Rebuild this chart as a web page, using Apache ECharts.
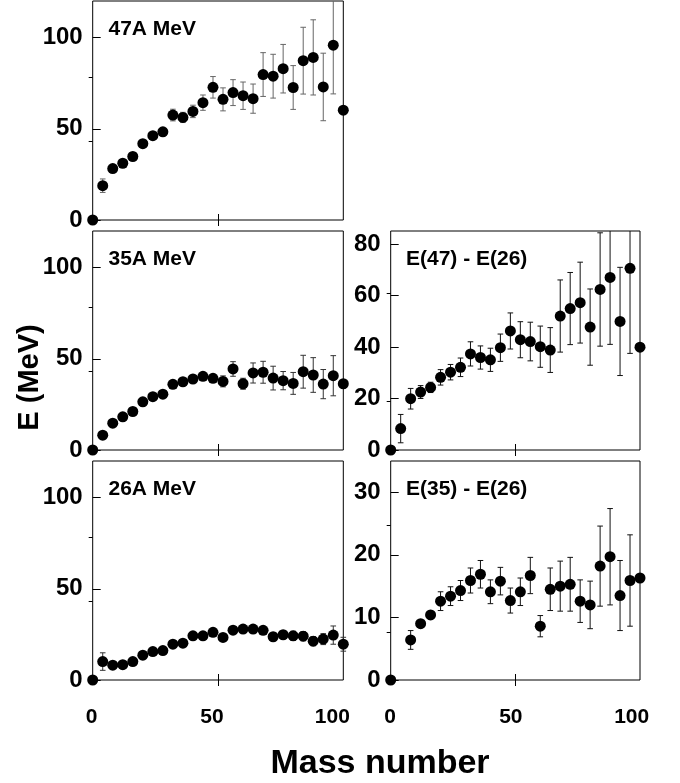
<!DOCTYPE html>
<html>
<head>
<meta charset="utf-8">
<script src="https://cdn.jsdelivr.net/npm/echarts@6/dist/echarts.min.js"></script>
<style>
html,body{margin:0;padding:0;background:#fff;}
#chart{width:680px;height:783px;}
</style>
</head>
<body>
<div id="chart"></div>
<script>
// ---- data ----
const massNumbers = [0,4,8,12,16,20,24,28,32,36,40,44,48,52,56,60,64,68,72,76,80,84,88,92,96,100];

const e47 = [0,18.8,28.2,31.1,34.8,41.8,46.2,48.3,57.5,56.2,59.5,64.3,72.7,66.1,69.8,68.1,66.5,79.7,78.8,82.9,72.6,87.3,89.1,72.9,95.8,60.2];
const e47Err = [0,3.7,1.5,1.5,1.5,1.5,1.5,1.5,3.2,2.8,3.4,4.2,5.9,6.3,7.1,7.5,8,12,12,13.3,12,18.3,20.6,18.5,26.7,0];

const e35 = [0,8.1,14.7,18.2,21.1,26.4,29.2,30.6,36.0,37.4,38.9,40.4,39.3,37.6,44.4,36.3,42.2,42.6,39.4,38.0,36.5,42.9,41.1,36.1,40.7,36.3];
const e35Err = [0,2,1,1,1,1,1,1,1,1,1.5,2,2,3,4,3,5.5,6,6.5,5,6,9,9.5,8,11,0];

const e26 = [0,10.1,8.1,8.4,10.1,13.6,15.6,16.1,19.6,20.2,24.2,24.2,26.1,23.3,27.3,27.9,27.9,27.2,23.7,24.8,24.2,24.0,21.3,22.4,24.6,19.6];
const e26Err = [0,4.8,1,1,1,1,1,1,1,1,1,1,1,1,1,1.5,2,2,1.5,2,2.5,2.5,2.5,3,5,3.8];

const d4726 = [0,8.3,19.9,22.5,24.3,28.2,30.2,32.1,37.3,35.9,35.0,39.7,46.2,42.8,42.1,40.1,38.8,52.0,54.9,57.2,47.7,62.3,67.0,49.9,70.5,39.9];
const d4726Err = [0,5.5,4,2.5,2,3,3,3.6,4.7,4.5,4.5,5.3,7,7,7.5,8,8.7,14,14,15.7,14.8,22,26,21,33,0];

const d3526 = [0,null,6.4,9.0,10.4,12.6,13.4,14.3,15.9,16.9,14.1,15.8,12.7,14.1,16.7,8.6,14.5,15.0,15.3,12.6,12.0,18.2,19.7,13.5,15.9,16.3];
const d3526Err = [0,null,1.5,0.5,0.6,1.5,1.5,1.6,2,2.2,1.9,2.2,2,2.2,2.9,1.7,3.4,4,4.3,3.4,3.8,6.4,7.7,5.6,7.3,0];

const panelTitles = ['47A MeV','35A MeV','26A MeV','E(47) - E(26)','E(35) - E(26)'];
const xTickLabels = [0,50,100];
const leftYTicks = [0,50,100];
const diff47YTicks = [0,20,40,60,80];
const diff35YTicks = [0,10,20,30];

// ---- layout ----
const FONT = '"Liberation Sans", Arial, Helvetica, sans-serif';
const panels = [
  {left:92.7, top:1,   width:250.6, height:219, ymax:120, yt:leftYTicks,   rt:[43.3,78.1], vals:e47,   errs:e47Err,   errColor:'#666'},
  {left:92.7, top:231, width:250.6, height:219, ymax:120, yt:leftYTicks,   rt:[43.3,78.1], vals:e35,   errs:e35Err,   errColor:'#333'},
  {left:92.7, top:461, width:250.6, height:219, ymax:120, yt:leftYTicks,   rt:[43.3,78.1], vals:e26,   errs:e26Err,   errColor:'#333'},
  {left:390.7,top:231, width:249.3, height:219, ymax:85,  yt:diff47YTicks, rt:[19.1,61],   vals:d4726, errs:d4726Err, errColor:'#111'},
  {left:390.7,top:461, width:249.3, height:219, ymax:35,  yt:diff35YTicks, rt:[7.7,24.8],  vals:d3526, errs:d3526Err, errColor:'#111'}
];

const grid = [], xAxis = [], yAxis = [], series = [], graphic = [];

panels.forEach((p, k) => {
  grid.push({left:p.left, top:p.top, width:p.width, height:p.height, show:true,
             borderColor:'#000', borderWidth:1, backgroundColor:'transparent'});
  xAxis.push({gridIndex:k, type:'value', min:0, max:100, position:'bottom',
    axisLine:{show:false}, splitLine:{show:false}, axisLabel:{show:false},
    axisTick:{show:true, inside:true, length:6, customValues:[50], lineStyle:{color:'#000'}}});
  xAxis.push({gridIndex:k, type:'value', min:0, max:100, position:'top',
    axisLine:{show:false}, splitLine:{show:false}, axisLabel:{show:false},
    axisTick:{show:true, inside:true, length:6, customValues:[50], lineStyle:{color:'#000'}}});
  yAxis.push({gridIndex:k, type:'value', min:0, max:p.ymax, position:'left',
    axisLine:{show:false}, splitLine:{show:false},
    axisTick:{show:true, inside:true, length:8, customValues:p.yt, lineStyle:{color:'#000'}},
    axisLabel:{show:true, customValues:p.yt, margin:10, color:'#000',
      fontFamily:FONT, fontWeight:'bold', fontSize:24}});
  yAxis.push({gridIndex:k, type:'value', min:0, max:p.ymax, position:'right',
    axisLine:{show:false}, splitLine:{show:false}, axisLabel:{show:false},
    axisTick:{show:true, inside:true, length:4, customValues:p.rt, lineStyle:{color:'#000'}}});

  const data = [];
  massNumbers.forEach((m, i) => {
    if (p.vals[i] !== null && p.vals[i] !== undefined) data.push([m, p.vals[i], p.errs[i]]);
  });

  series.push({
    type:'custom', xAxisIndex:2*k, yAxisIndex:2*k, z:2,
    data:data,
    renderItem:function(params, api){
      const x = api.value(0), y = api.value(1), e = api.value(2);
      if (!e) return null;
      const cs = params.coordSys;
      const top = api.coord([x, y + e]);
      const bot = api.coord([x, y - e]);
      const yTop = Math.max(top[1], cs.y);
      const yBot = Math.min(bot[1], cs.y + cs.height);
      const st = {stroke:p.errColor, lineWidth:1};
      const children = [{type:'line', shape:{x1:top[0], y1:yTop, x2:top[0], y2:yBot}, style:st}];
      const hw = 2.8;
      if (top[1] >= cs.y) children.push({type:'line', shape:{x1:top[0]-hw, y1:top[1], x2:top[0]+hw, y2:top[1]}, style:st});
      if (bot[1] <= cs.y + cs.height) children.push({type:'line', shape:{x1:bot[0]-hw, y1:bot[1], x2:bot[0]+hw, y2:bot[1]}, style:st});
      return {type:'group', children:children};
    },
    encode:{x:0, y:1},
    silent:true
  });
  series.push({
    type:'scatter', xAxisIndex:2*k, yAxisIndex:2*k, z:3,
    data:data.map(d => [d[0], d[1]]),
    symbol:'circle', symbolSize:11, clip:false,
    itemStyle:{color:'#000', opacity:1}, silent:true
  });

  graphic.push({type:'text', x:(k < 3 ? 108.5 : 406), y:p.top + 28.5,
    style:{text:panelTitles[k], fill:'#000', font:'bold 21px ' + FONT,
           textAlign:'left', textVerticalAlign:'middle'}});
});

const labelCols = [{left:91.7, width:240.6}, {left:390, width:241.7}];
labelCols.forEach(c => {
  const gi = grid.length;
  grid.push({left:c.left, top:679, width:c.width, height:1, show:false});
  xAxis.push({gridIndex:gi, type:'value', min:0, max:100, position:'bottom',
    axisLine:{show:false}, axisTick:{show:false}, splitLine:{show:false},
    axisLabel:{show:true, customValues:xTickLabels, margin:27, color:'#000',
      fontFamily:FONT, fontWeight:'bold', fontSize:21}});
  yAxis.push({gridIndex:gi, type:'value', min:0, max:1, show:false});
});

graphic.push({type:'text', x:30, y:377.5, rotation:Math.PI/2,
  style:{text:'E (MeV)', fill:'#000', font:'bold 29px ' + FONT,
         textAlign:'center', textVerticalAlign:'middle'}});
graphic.push({type:'text', x:380, y:764,
  style:{text:'Mass number', fill:'#000', font:'bold 34px ' + FONT,
         textAlign:'center', textVerticalAlign:'middle'}});

const chart = echarts.init(document.getElementById('chart'), null, {renderer:'canvas'});
chart.setOption({
  animation:false,
  backgroundColor:'#fff',
  grid:grid, xAxis:xAxis, yAxis:yAxis, series:series, graphic:graphic
});
</script>
</body>
</html>
